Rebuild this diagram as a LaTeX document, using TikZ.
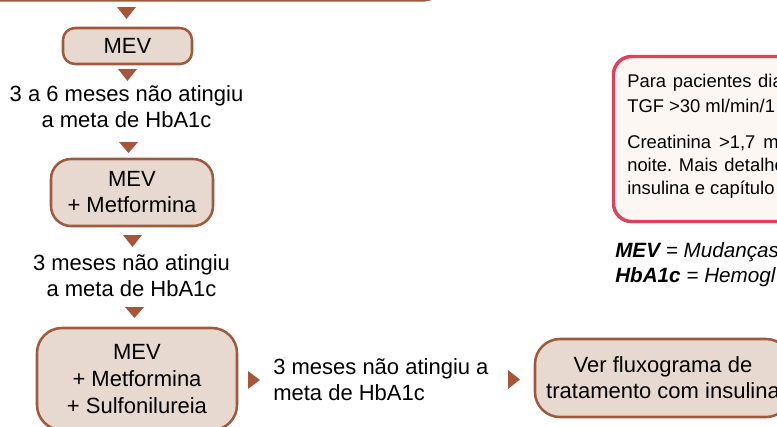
\documentclass[tikz,border=0pt]{standalone}
\usepackage{fontspec}
\setmainfont{Liberation Sans}
\definecolor{marrom}{HTML}{9E5A3E}
\definecolor{seta}{HTML}{A5563A}
\definecolor{bege}{HTML}{E7D9CF}
\definecolor{vermelho}{HTML}{DE4259}
\definecolor{rosado}{HTML}{FDF7F4}
\tikzset{
  caixa/.style={draw=marrom, fill=bege, line width=1.9pt, align=center, inner sep=0pt, font=\fontsize{16.5}{19.5}\selectfont},
  texto/.style={align=center, inner sep=0pt, font=\fontsize{16.5}{19.5}\selectfont},
  ponta/.style={fill=seta},
  nota/.style={anchor=base west, inner sep=0pt, font=\fontsize{13.8}{16}\selectfont},
  legenda/.style={anchor=base west, inner sep=0pt, font=\fontsize{15.5}{19}\selectfont\itshape},
}
\begin{document}
\begin{tikzpicture}[x=0.75pt,y=0.75pt,yscale=-1,xscale=1]
\useasboundingbox (0,0) rectangle (777,426);
\clip (0,0) rectangle (777,426);

%Shape: Rounded Rectangle (box above)
\draw[marrom, fill=bege, line width=1.5pt, rounded corners=9pt] (-20,-60) rectangle (437,0.5);

%Shape: Triangle
\fill[ponta] (117,7) -- (136,7) -- (126.5,19) -- cycle;
% Box
\node[caixa, rounded corners=9pt, minimum width=96.75pt, minimum height=27pt] (mevA) at (127.5,46) {MEV};
%Shape: Triangle
\fill[ponta] (118,69) -- (137,69) -- (127.5,81) -- cycle;
% Text Node
\node[texto] (metaA) at (126.5,107) {3 a 6 meses não atingiu\\a meta de HbA1c};
%Shape: Triangle
\fill[ponta] (119,142) -- (138,142) -- (128.5,153) -- cycle;
% Box
\node[caixa, rounded corners=15pt, minimum width=121.5pt, minimum height=50.25pt] (mevB) at (132,192.5) {MEV\\+ Metformina};
%Shape: Triangle
\fill[ponta] (123,235) -- (142,235) -- (132.5,247) -- cycle;
% Text Node
\node[texto] (metaB) at (131.5,276) {3 meses não atingiu\\a meta de HbA1c};
%Shape: Triangle
\fill[ponta] (125,307) -- (144,307) -- (134.5,318) -- cycle;
% Box
\node[caixa, rounded corners=18.75pt, minimum width=150pt, minimum height=76.5pt, font=\fontsize{16.5}{20.25}\selectfont] (mevC) at (137,379) {MEV\\+ Metformina\\+ Sulfonilureia};

%Shape: Triangle
\fill[ponta] (248,371) -- (248,389) -- (260,380) -- cycle;
% Text Node
\node[texto, align=left, anchor=west] (metaC) at (273,380) {3 meses não atingiu a\\meta de HbA1c};
%Shape: Triangle
\fill[ponta] (508,370) -- (508,389) -- (520,379.5) -- cycle;
% Box
\node[caixa, rounded corners=18.75pt, minimum width=192pt, minimum height=58.5pt] (insulina) at (663,378) {Ver fluxograma de\\tratamento com insulina};

%Shape: Rounded Rectangle (nota)
\draw[vermelho, fill=rosado, line width=2.6pt, rounded corners=13.5pt] (613.5,56.5) rectangle (830,221.5);
% Text Node
\node[nota] (notaA) at (627,87) {Para\hspace{5pt}pacientes\hspace{5pt}dia};
\node[nota] (notaB) at (627,112) {TGF >30 ml/min/1};
\node[nota] (notaC) at (627,148) {Creatinina\hspace{6pt}>1,7\hspace{6pt}m};
\node[nota] (notaD) at (627,171) {noite.\hspace{5pt}Mais\hspace{5pt}detalhe};
\node[nota] (notaE) at (627,194) {insulina e capítulo};

% Text Node
\node[legenda] (legA) at (615,257) {\textbf{MEV} = Mudanças};
\node[legenda] (legB) at (615,282) {\textbf{HbA1c} = Hemogl};

\end{tikzpicture}
\end{document}
